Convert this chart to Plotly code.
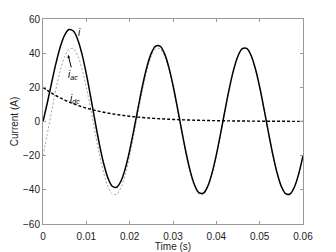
import plotly.graph_objects as go

t_ms = list(range(0, 61))
time_s = [k / 1000 for k in t_ms]

i_ac_base = [-20.0, -7.25, 6.21, 19.05, 30.03, 38.07, 42.39, 42.55, 38.55, 30.78,
             19.99, 7.25, -6.21, -19.05, -30.03, -38.07, -42.39, -42.55, -38.55, -30.78]
i_ac = (i_ac_base * 3) + [-20.0]

i_dc = [20.00, 18.22, 16.59, 15.11, 13.76, 12.54, 11.42, 10.40, 9.47, 8.63,
        7.86, 7.16, 6.52, 5.94, 5.41, 4.93, 4.49, 4.09, 3.72, 3.39,
        3.09, 2.81, 2.56, 2.33, 2.13, 1.94, 1.76, 1.61, 1.46, 1.33,
        1.21, 1.11, 1.01, 0.92, 0.83, 0.76, 0.69, 0.63, 0.57, 0.52,
        0.48, 0.43, 0.40, 0.36, 0.33, 0.30, 0.27, 0.25, 0.23, 0.21,
        0.19, 0.17, 0.16, 0.14, 0.13, 0.12, 0.11, 0.10, 0.09, 0.08, 0.07]

i_total = [0.0, 10.97, 22.80, 34.16, 43.79, 50.61, 53.81, 52.95, 48.02, 39.41,
           27.85, 14.41, 0.31, -13.11, -24.62, -33.14, -37.90, -38.46, -34.83, -27.39,
           -16.91, -4.44, 8.77, 21.38, 32.16, 40.01, 44.15, 44.16, 40.01, 32.11,
           21.20, 8.36, -5.20, -18.13, -29.20, -37.31, -41.70, -41.92, -37.98, -30.26,
           -19.52, -6.82, 6.61, 19.41, 30.36, 38.37, 42.66, 42.80, 38.78, 30.99,
           20.18, 7.42, -6.05, -18.91, -29.90, -37.95, -42.28, -42.45, -38.46, -30.70, -19.93]

x_ticks = [0, 0.01, 0.02, 0.03, 0.04, 0.05, 0.06]
x_tick_labels = ["0", "0.01", "0.02", "0.03", "0.04", "0.05", "0.06"]
y_ticks = [-60, -40, -20, 0, 20, 40, 60]

fig = go.Figure()
fig.add_trace(go.Scatter(x=time_s, y=i_ac, mode="lines",
                         line=dict(color="#a0a0a0", width=1, dash="2px,2px", shape="spline"), name="i_ac"))
fig.add_trace(go.Scatter(x=time_s, y=i_dc, mode="lines",
                         line=dict(color="black", width=1.4, dash="3px,2px", shape="spline"), name="i_dc"))
fig.add_trace(go.Scatter(x=time_s, y=i_total, mode="lines",
                         line=dict(color="black", width=1.5, shape="spline"), name="i"))

font_main = dict(family="Liberation Sans, Arial, sans-serif", size=10, color="#222222")
ann_font = dict(family="Liberation Sans, Arial, sans-serif", size=10, color="black")
fig.update_layout(
    width=336, height=252,
    margin=dict(l=43, r=33, t=19, b=28, autoexpand=False),
    paper_bgcolor="white", plot_bgcolor="white",
    showlegend=False,
    font=font_main,
    xaxis=dict(range=[0, 0.06], tickvals=x_ticks, ticktext=x_tick_labels,
               showgrid=False, zeroline=False, showline=True, linecolor="#999", linewidth=1,
               mirror="ticks", ticks="inside", ticklen=3, tickcolor="#999",
               ticklabelstandoff=3, automargin=False,
               title=dict(text="Time (s)", standoff=1, font=font_main)),
    yaxis=dict(range=[-60, 60], tickvals=y_ticks,
               showgrid=False, zeroline=False, showline=True, linecolor="#999", linewidth=1,
               mirror="ticks", ticks="inside", ticklen=3, tickcolor="#999",
               automargin=False,
               title=dict(text="Current (A)", standoff=2, font=font_main)),
    annotations=[
        dict(x=0.0085, y=52, text="<i>i</i>", showarrow=False, font=ann_font),
        dict(x=0.0058, y=39, ax=5, ay=20, text="<i>i</i><sub><i>ac</i></sub>", showarrow=True,
             arrowhead=2, arrowsize=0.6, arrowwidth=1, arrowcolor="black", font=ann_font),
        dict(x=0.0073, y=13, text="<i>i</i><sub><i>dc</i></sub>", showarrow=False, font=ann_font),
    ],
)

fig.write_html("out.html")
